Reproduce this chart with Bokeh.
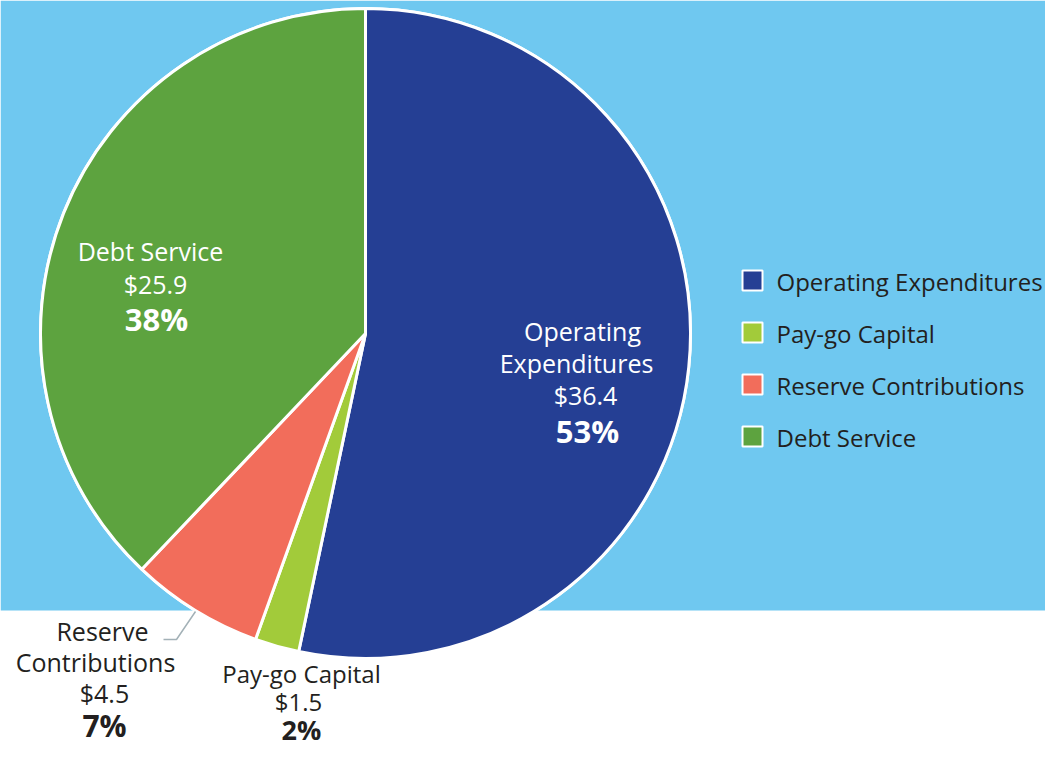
import math
from bokeh.plotting import figure
from bokeh.models import Range1d, ColumnDataSource
from bokeh.core.properties import value
from bokeh.embed import file_html
from bokeh.resources import INLINE

categories = ["Operating Expenditures", "Pay-go Capital", "Reserve Contributions", "Debt Service"]
amounts = [36.4, 1.5, 4.5, 25.9]
colors = ["#253F94", "#A2CB3A", "#F26D5B", "#5DA33F"]

REF_H = 764
W, H = 1045, 748
FONT = "Open Sans"
DARK = "#231F20"

p = figure(width=W, height=H, output_backend="svg", toolbar_location=None,
           x_range=Range1d(0, W), y_range=Range1d(REF_H - H, REF_H), min_border=0)
p.axis.visible = False
p.grid.visible = False
p.outline_line_color = None
p.background_fill_color = "white"
p.border_fill_color = "white"

def Y(y):
    return REF_H - y

# blue background panel
p.quad(left=[0], right=[W], bottom=[Y(610)], top=[REF_H], fill_color="#6FC8F0", line_color=None)

# pie
total = sum(amounts)
cx, cy, r = 365, Y(333), 325
starts, ends = [], []
c = 0.0
for a in amounts:
    c0 = c
    c += a / total
    starts.append(math.pi / 2 - 2 * math.pi * c)
    ends.append(math.pi / 2 - 2 * math.pi * c0)
src = ColumnDataSource(dict(start=starts, end=ends, color=colors, cat=categories))
p.circle(x=[cx], y=[cy], radius=r + 1.5, fill_color="white", line_color=None)
p.wedge(x=cx, y=cy, radius=r, start_angle="start", end_angle="end", fill_color="color",
        line_color="white", line_width=3, source=src)

pcts = [f"{round(a / total * 100)}%" for a in amounts]
vals = [f"${a}" for a in amounts]

def label(lines, xs, ys, color, size=25, bsize=31):
    for i, (t, x, y) in enumerate(zip(lines, xs, ys)):
        bold = i == len(lines) - 1
        p.text(x=[x], y=[Y(y)], text=[t], text_font=value(FONT),
               text_font_size=f"{bsize}px" if bold else f"{size}px",
               text_font_style="bold" if bold else "normal",
               text_color=color, text_align="center", text_baseline="middle")

# Operating Expenditures
label(["Operating", "Expenditures", vals[0], pcts[0]], [582, 576, 585, 587], [330, 362, 394, 430], "white")
# Debt Service
label(["Debt Service", vals[3], pcts[3]], [150, 155, 156], [250, 283, 318], "white")
# Reserve Contributions
label(["Reserve", "Contributions", vals[2], pcts[2]], [102, 95, 104, 104], [630, 661, 692, 725], DARK, bsize=30)
# Pay-go Capital
label(["Pay-go Capital", vals[1], pcts[1]], [301, 298, 301], [673, 701, 729], DARK, size=24, bsize=27)

# leader line for reserve
p.line(x=[163, 176, 195], y=[Y(639), Y(639), Y(611)], line_color="#A3B1B7", line_width=1.5)

# legend
leg_y = [280, 332, 384, 436]
for cat, col, ly in zip(categories, colors, leg_y):
    p.quad(left=[742], right=[762], bottom=[Y(ly + 10)], top=[Y(ly - 10)],
           fill_color=col, line_color="white", line_width=2)
    p.text(x=[776], y=[Y(ly + 1)], text=[cat], text_font=value(FONT), text_font_size="24px",
           text_color=DARK, text_align="left", text_baseline="middle")

open("out.html", "w").write(file_html(p, INLINE))
